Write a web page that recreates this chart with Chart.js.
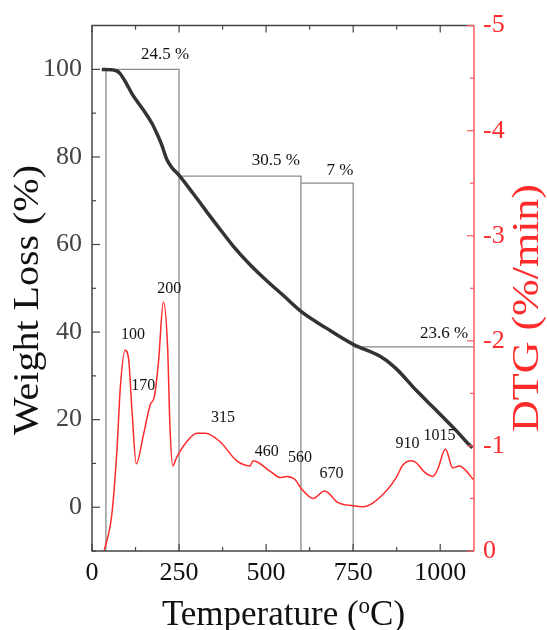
<!DOCTYPE html>
<html>
<head>
<meta charset="utf-8">
<script src="https://cdn.jsdelivr.net/npm/chart.js@4/dist/chart.umd.min.js"></script>
<style>
  html, body { margin: 0; padding: 0; background: #fff; }
  #wrap { width: 547px; height: 630px; }
</style>
</head>
<body>
<div id="wrap"><canvas id="myChart" width="547" height="630"></canvas></div>
<script>
// TG curve (weight %, left axis)
const tgTemp   = [28, 57, 72, 81, 100, 115, 134, 153, 172, 186, 200, 215, 229, 249, 291, 310, 330, 358, 406, 454, 501, 549, 602, 673, 750, 835, 874, 931, 989, 1046, 1084, 1093];
const tgWeight = [100, 99.9, 99.6, 99.0, 96.6, 94.4, 92.2, 90.1, 87.7, 85.4, 82.8, 79.4, 77.6, 75.9, 71.6, 69.6, 67.4, 64.5, 59.6, 55.4, 51.8, 48.4, 44.6, 40.9, 37.2, 34.1, 31.6, 26.7, 22.1, 17.5, 14.2, 13.6];

// DTG curve (%/min, right axis)
const dtgTemp = [35, 57, 72, 81, 95, 105, 115, 127, 148, 167, 179, 191, 205, 217, 224, 232, 243, 253, 272, 301, 325, 368, 415, 454, 463, 511, 540, 559, 583, 602, 635, 668, 707, 750, 778, 836, 874, 893, 917, 931, 955, 979, 993, 1015, 1036, 1055, 1075, 1095];
const dtgRate = [0, -0.35, -0.98, -1.54, -1.91, -1.83, -1.33, -0.83, -1.11, -1.39, -1.47, -1.80, -2.37, -1.95, -1.17, -0.81, -0.89, -0.95, -1.04, -1.12, -1.12, -1.04, -0.86, -0.81, -0.86, -0.76, -0.70, -0.71, -0.68, -0.59, -0.50, -0.57, -0.46, -0.43, -0.42, -0.54, -0.70, -0.82, -0.86, -0.84, -0.75, -0.71, -0.78, -0.97, -0.79, -0.81, -0.76, -0.68];

// mass-loss stages: boundaries, level of each step, label
const stageTemp  = [40, 250, 600, 750, 1097];
const stageLevel = [100, 75.6, 74.0, 36.6];
const stageLabel = ['24.5 %', '30.5 %', '7 %', '23.6 %'];
const stageLabelAt = [[210, 103.5], [528, 79.1], [712, 76.9], [1011, 39.6]];

// DTG peak labels
const peakLabel = ['100', '170', '200', '315', '460', '560', '670', '910', '1015'];
const peakLabelAt = [[118, 39.4], [147, 27.7], [222, 49.8], [376, 20.5], [502, 12.6], [597, 11.4], [688, 7.6], [906, 14.4], [998, 16.4]];

// ticks
const xTicks = [0, 250, 500, 750, 1000];
const xMinor = [125, 375, 625, 875];
const yTicks = [0, 20, 40, 60, 80, 100];
const yMinor = [-10, 10, 30, 50, 70, 90];
const y2Ticks = [-5, -4, -3, -2, -1, 0];
const y2Minor = [-4.5, -3.5, -2.5, -1.5, -0.5];

const serif = "'Liberation Serif', 'Times New Roman', serif";
const red = '#ff2a2a';

const decor = {
  id: 'decor',
  beforeDatasetsDraw(chart) {
    const c = chart.ctx, x = chart.scales.x, y = chart.scales.y;
    c.save();
    c.strokeStyle = '#8a8a8a';
    c.lineWidth = 1.3;
    const bot = chart.chartArea.bottom;
    for (let i = 0; i < stageLevel.length; i++) {
      const x0 = x.getPixelForValue(stageTemp[i]);
      const x1 = x.getPixelForValue(stageTemp[i + 1]);
      const yy = y.getPixelForValue(stageLevel[i]);
      c.beginPath();
      if (i === 0) { c.moveTo(x0, bot); c.lineTo(x0, yy); }
      else c.moveTo(x0, yy);
      c.lineTo(x1, yy);
      if (i < stageLevel.length - 1) c.lineTo(x1, bot);
      c.stroke();
    }
    c.restore();
  },
  afterDraw(chart) {
    const c = chart.ctx, a = chart.chartArea;
    const x = chart.scales.x, y = chart.scales.y, y2 = chart.scales.y2;
    c.save();
    // frame
    c.lineWidth = 1.5;
    c.strokeStyle = '#444';
    c.beginPath();
    c.moveTo(a.right, a.top); c.lineTo(a.left, a.top); c.lineTo(a.left, a.bottom); c.lineTo(a.right, a.bottom);
    c.stroke();
    c.strokeStyle = '#ff5a5a';
    c.beginPath(); c.moveTo(a.right, a.top); c.lineTo(a.right, a.bottom); c.stroke();

    // inward ticks
    c.lineWidth = 1.2;
    c.strokeStyle = '#444';
    const tick = (x0, y0, x1, y1) => { c.beginPath(); c.moveTo(x0, y0); c.lineTo(x1, y1); c.stroke(); };
    xTicks.forEach(v => { const p = x.getPixelForValue(v); tick(p, a.bottom, p, a.bottom - 7); tick(p, a.top, p, a.top + 7); });
    xMinor.forEach(v => { const p = x.getPixelForValue(v); tick(p, a.bottom, p, a.bottom - 4); tick(p, a.top, p, a.top + 4); });
    yTicks.forEach(v => { const p = y.getPixelForValue(v); tick(a.left, p, a.left + 8, p); });
    yMinor.forEach(v => { const p = y.getPixelForValue(v); tick(a.left, p, a.left + 4, p); });
    c.strokeStyle = '#ff5a5a';
    y2Ticks.forEach(v => { const p = y2.getPixelForValue(v); tick(a.right, p, a.right - 7, p); });
    y2Minor.forEach(v => { const p = y2.getPixelForValue(v); tick(a.right, p, a.right - 4, p); });

    // labels in the plot
    c.fillStyle = '#111';
    c.textAlign = 'center';
    c.textBaseline = 'middle';
    c.font = '17px ' + serif;
    stageLabel.forEach((t, i) => c.fillText(t, x.getPixelForValue(stageLabelAt[i][0]), y.getPixelForValue(stageLabelAt[i][1])));
    c.font = '16px ' + serif;
    peakLabel.forEach((t, i) => c.fillText(t, x.getPixelForValue(peakLabelAt[i][0]), y.getPixelForValue(peakLabelAt[i][1])));

    // axis titles
    const vTitle = (text, cx, cy, size, len, color) => {
      c.save();
      c.font = size + 'px ' + serif;
      c.fillStyle = color;
      c.translate(cx, cy);
      c.rotate(-Math.PI / 2);
      c.scale(len / c.measureText(text).width, 1);
      c.textAlign = 'center';
      c.textBaseline = 'middle';
      c.fillText(text, 0, 0);
      c.restore();
    };
    vTitle('Weight Loss (%)', 29, 300, 36, 270, '#111');
    vTitle('DTG (%/min)', 528, 308, 38, 248, red);

    c.fillStyle = '#111';
    c.textAlign = 'left';
    c.textBaseline = 'alphabetic';
    const p1 = 'Temperature (', p3 = 'C)';
    c.font = '35px ' + serif;
    const w1 = c.measureText(p1).width, w3 = c.measureText(p3).width;
    c.font = '23px ' + serif;
    const w2 = c.measureText('o').width;
    const sx = 283.5 - (w1 + w2 + w3) / 2;
    const base = 625;
    c.font = '35px ' + serif;
    c.fillText(p1, sx, base);
    c.font = '23px ' + serif;
    c.fillText('o', sx + w1, base - 12);
    c.font = '35px ' + serif;
    c.fillText(p3, sx + w1 + w2, base);
    c.restore();
  }
};

const ctx = document.getElementById('myChart').getContext('2d');

const chart = new Chart(ctx, {
  type: 'line',
  data: {
    datasets: [
      {
        label: 'TG',
        data: tgTemp.map((t, i) => ({ x: t, y: tgWeight[i] })),
        borderColor: '#333',
        borderWidth: 3.5,
        pointRadius: 0,
        cubicInterpolationMode: 'monotone',
        yAxisID: 'y'
      },
      {
        label: 'DTG',
        data: dtgTemp.map((t, i) => ({ x: t, y: dtgRate[i] })),
        borderColor: red,
        borderWidth: 1.5,
        pointRadius: 0,
        cubicInterpolationMode: 'monotone',
        yAxisID: 'y2'
      }
    ]
  },
  options: {
    responsive: false,
    animation: false,
    layout: { padding: { top: 19, left: 0, right: 0, bottom: 0 } },
    plugins: { legend: { display: false }, tooltip: { enabled: false } },
    scales: {
      x: {
        type: 'linear', min: 0, max: 1097,
        grid: { display: false, drawTicks: false }, border: { display: false },
        afterBuildTicks: s => { s.ticks = xTicks.map(v => ({ value: v })); },
        afterFit: s => { s.height = 79; },
        ticks: { padding: 7, color: '#111', font: { family: serif, size: 26 }, maxRotation: 0, callback: v => String(v) }
      },
      y: {
        position: 'left', min: -10, max: 110,
        grid: { display: false, drawTicks: false }, border: { display: false },
        afterBuildTicks: s => { s.ticks = yTicks.map(v => ({ value: v })); },
        afterFit: s => { s.width = 92; },
        ticks: { padding: 10, color: '#444', font: { family: serif, size: 26 }, callback: v => String(v) }
      },
      y2: {
        position: 'right', min: -5, max: 0, reverse: true,
        grid: { display: false, drawTicks: false }, border: { display: false },
        afterBuildTicks: s => { s.ticks = y2Ticks.map(v => ({ value: v })); },
        afterFit: s => { s.width = 73; },
        ticks: { padding: 9, color: red, font: { family: serif, size: 26 }, callback: v => String(v) }
      }
    }
  },
  plugins: [decor]
});
</script>
</body>
</html>
